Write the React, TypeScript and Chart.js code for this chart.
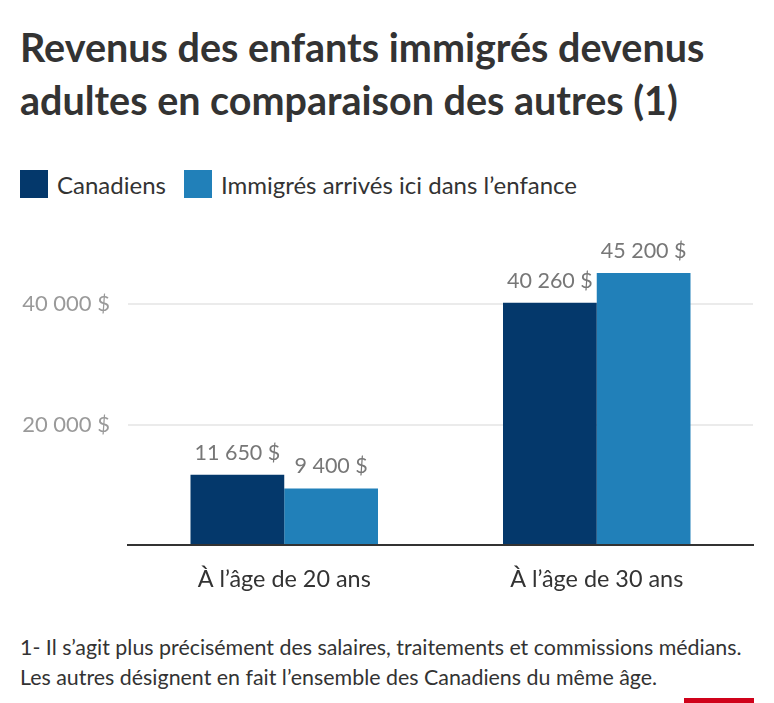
import React, { useEffect, useRef } from "react";
import { Chart, registerables } from "chart.js";

Chart.register(...registerables);

const titleLines = [
  "Revenus des enfants immigrés devenus",
  "adultes en comparaison des autres (1)",
];
const categories = ["À l’âge de 20 ans", "À l’âge de 30 ans"];
const seriesNames = ["Canadiens", "Immigrés arrivés ici dans l’enfance"];
const canadiens = [11650, 40260];
const immigres = [9400, 45200];
const seriesColors = ["#04386b", "#2180b9"];
const yTicks = [0, 20000, 40000];
const yMax = 50000;
const footnote = [
  "1- Il s’agit plus précisément des salaires, traitements et commissions médians.",
  "Les autres désignent en fait l’ensemble des Canadiens du même âge.",
];

const fmt = (v: number) =>
  String(v).replace(/\B(?=(\d{3})+(?!\d))/g, "\u00a0") + "\u00a0$";

const FONT = "Lato, 'Open Sans', sans-serif";

const valueLabels = {
  id: "valueLabels",
  afterDatasetsDraw(chart: any) {
    const ctx = chart.ctx;
    ctx.save();
    ctx.font = `400 21.5px ${FONT}`;
    ctx.fillStyle = "#777777";
    ctx.textAlign = "center";
    ctx.textBaseline = "alphabetic";
    chart.data.datasets.forEach((ds: any, i: number) => {
      const meta = chart.getDatasetMeta(i);
      meta.data.forEach((bar: any, j: number) => {
        ctx.fillText(fmt(ds.data[j]), bar.x, bar.y - 15);
      });
    });
    ctx.restore();
  },
};

export default function App() {
  const ref = useRef<HTMLCanvasElement | null>(null);

  useEffect(() => {
    if (!ref.current) return;
    const chart = new Chart(ref.current, {
      type: "bar",
      data: {
        labels: categories,
        datasets: [
          {
            label: seriesNames[0],
            data: canadiens,
            backgroundColor: seriesColors[0],
            categoryPercentage: 0.6,
            barPercentage: 1,
          },
          {
            label: seriesNames[1],
            data: immigres,
            backgroundColor: seriesColors[1],
            categoryPercentage: 0.6,
            barPercentage: 1,
          },
        ],
      },
      options: {
        animation: false,
        responsive: true,
        maintainAspectRatio: false,
        layout: { padding: { top: 24, right: 21, left: 0, bottom: 0 } },
        plugins: {
          legend: { display: false },
          tooltip: { enabled: false },
          title: { display: false },
        },
        scales: {
          x: {
            grid: { display: false, drawTicks: false },
            border: { display: true, color: "#333333", width: 2 },
            ticks: {
              color: "#333333",
              font: { family: FONT, size: 23.4, weight: "400" },
              padding: 20,
            },
            afterFit: (s: any) => {
              s.height = 65;
              s.paddingLeft = 0;
              s.paddingRight = 0;
            },
          },
          y: {
            min: 0,
            max: yMax,
            afterBuildTicks: (s: any) => {
              s.ticks = yTicks.map((v) => ({ value: v }));
            },
            afterFit: (s: any) => {
              s.width = 128;
              s.paddingTop = 0;
              s.paddingBottom = 0;
            },
            border: { display: false },
            grid: {
              drawTicks: false,
              lineWidth: 2,
              color: (c: any) =>
                c.tick && c.tick.value === 0 ? "rgba(0,0,0,0)" : "#ebebeb",
            },
            ticks: {
              color: "#9a9a9a",
              font: { family: FONT, size: 22, weight: "400" },
              padding: 18,
              callback: (v: any) => (Number(v) === 0 ? "" : fmt(Number(v))),
            },
          },
        },
      },
      plugins: [valueLabels],
    });
    return () => chart.destroy();
  }, []);

  return (
    <div
      style={{
        position: "absolute",
        left: 0,
        top: 0,
        width: 774,
        height: 703,
        background: "#ffffff",
        fontFamily: FONT,
        overflow: "hidden",
      }}
    >
      <div
        style={{
          position: "absolute",
          left: 20,
          top: 20,
          fontSize: 39.5,
          fontWeight: 700,
          lineHeight: "53px",
          color: "#333333",
          whiteSpace: "nowrap",
        }}
      >
        {titleLines.map((t, i) => (
          <div key={i}>{t}</div>
        ))}
      </div>
      <div
        style={{
          position: "absolute",
          left: 20,
          top: 170,
          height: 28,
          display: "flex",
          alignItems: "center",
          fontSize: 24,
          color: "#333333",
          whiteSpace: "nowrap",
        }}
      >
        {seriesNames.map((n, i) => (
          <div
            key={i}
            style={{ display: "flex", alignItems: "center", marginRight: 18 }}
          >
            <span
              style={{
                display: "inline-block",
                width: 28,
                height: 28,
                background: seriesColors[i],
                marginRight: 9,
              }}
            />
            <span>{n}</span>
          </div>
        ))}
      </div>
      <div
        style={{
          position: "absolute",
          left: 0,
          top: 220,
          width: 774,
          height: 390,
        }}
      >
        <canvas ref={ref} />
      </div>
      <div
        style={{
          position: "absolute",
          left: 20,
          top: 632,
          fontSize: 21.4,
          lineHeight: "30px",
          color: "#333333",
          whiteSpace: "nowrap",
        }}
      >
        {footnote.map((t, i) => (
          <div key={i}>{t}</div>
        ))}
      </div>
      <div
        style={{
          position: "absolute",
          left: 684,
          top: 698,
          width: 70,
          height: 5,
          background: "#d0021b",
        }}
      />
    </div>
  );
}
